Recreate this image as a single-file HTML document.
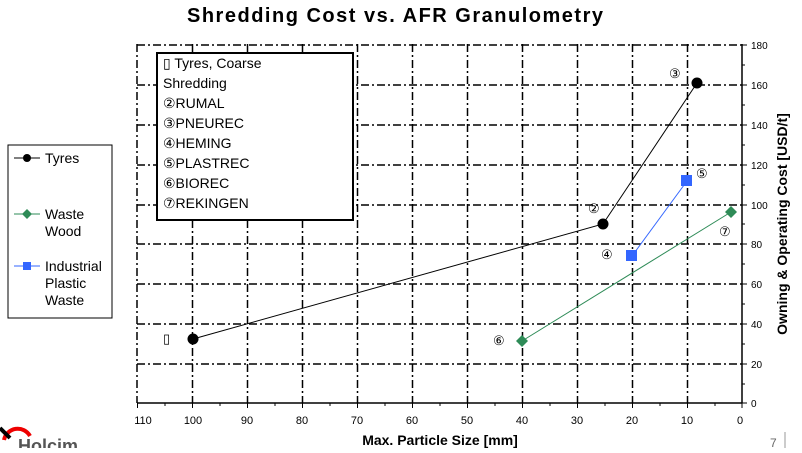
<!DOCTYPE html>
<html><head><meta charset="utf-8"><style>
body{margin:0;background:#fff;width:802px;height:448px;overflow:hidden;font-family:"Liberation Sans",sans-serif}
</style></head><body>
<svg width="802" height="448" xmlns="http://www.w3.org/2000/svg" font-family="Liberation Sans, sans-serif">
<text x="187" y="22" font-size="20" font-weight="bold" textLength="416" lengthAdjust="spacing">Shredding Cost vs. AFR Granulometry</text>
<g stroke="#000" stroke-width="1.5" stroke-dasharray="8,3,2,3" fill="none">
<line x1="192.5" y1="44" x2="192.5" y2="403"/><line x1="247.5" y1="44" x2="247.5" y2="403"/>
<line x1="302.5" y1="44" x2="302.5" y2="403"/><line x1="357.5" y1="44" x2="357.5" y2="403"/>
<line x1="412.5" y1="44" x2="412.5" y2="403"/><line x1="467.5" y1="44" x2="467.5" y2="403"/>
<line x1="522.5" y1="44" x2="522.5" y2="403"/><line x1="577.5" y1="44" x2="577.5" y2="403"/>
<line x1="632.5" y1="44" x2="632.5" y2="403"/><line x1="687.5" y1="44" x2="687.5" y2="403"/>
<line x1="137" y1="85" x2="742" y2="85"/><line x1="137" y1="125" x2="742" y2="125"/>
<line x1="137" y1="165" x2="742" y2="165"/><line x1="137" y1="205" x2="742" y2="205"/>
<line x1="137" y1="244" x2="742" y2="244"/><line x1="137" y1="284" x2="742" y2="284"/>
<line x1="137" y1="324" x2="742" y2="324"/><line x1="137" y1="364" x2="742" y2="364"/>
<line x1="137" y1="45" x2="742" y2="45"/><line x1="137" y1="44" x2="137" y2="403"/>
</g>
<line x1="137" y1="403" x2="742" y2="403" stroke="#000" stroke-width="1.5"/>
<line x1="742" y1="44" x2="742" y2="403" stroke="#000" stroke-width="1.5"/>
<g stroke="#000" stroke-width="1">
<path d="M137.5 403v5M165 403v3M192.5 403v5M220 403v3M247.5 403v5M275 403v3M302.5 403v5M330 403v3M357.5 403v5M385 403v3M412.5 403v5M440 403v3M467.5 403v5M495 403v3M522.5 403v5M550 403v3M577.5 403v5M605 403v3M632.5 403v5M660 403v3M687.5 403v5M715 403v3M742 403v5"/>
<path d="M742 45h5M742 65h3M742 85h5M742 105h3M742 125h5M742 145h3M742 165h5M742 185h3M742 205h5M742 224h3M742 244h5M742 264h3M742 284h5M742 304h3M742 324h5M742 344h3M742 364h5M742 384h3M742 403h5"/>
</g>
<g font-size="11" text-anchor="middle">
<text x="143" y="424">110</text><text x="193" y="424">100</text><text x="247" y="424">90</text><text x="302" y="424">80</text><text x="357" y="424">70</text><text x="412" y="424">60</text><text x="467" y="424">50</text><text x="522" y="424">40</text><text x="577" y="424">30</text><text x="632" y="424">20</text><text x="687" y="424">10</text><text x="740" y="424">0</text>
</g>
<g font-size="10">
<text x="751" y="49">180</text><text x="751" y="89">160</text><text x="751" y="129">140</text><text x="751" y="169">120</text><text x="751" y="209">100</text><text x="751" y="248">80</text><text x="751" y="288">60</text><text x="751" y="328">40</text><text x="751" y="368">20</text><text x="751" y="407">0</text>
</g>
<text x="440" y="445" font-size="14" font-weight="bold" text-anchor="middle">Max. Particle Size [mm]</text>
<text transform="translate(787,224) rotate(-90)" font-size="14" font-weight="bold" text-anchor="middle">Owning &amp; Operating Cost [USD/t]</text>
<rect x="157" y="53" width="196" height="167" fill="#fff" stroke="#000" stroke-width="2"/>
<g font-size="14">
<text x="163" y="68">▯ Tyres, Coarse</text><text x="163" y="88">Shredding</text>
<text x="163" y="108">②RUMAL</text><text x="163" y="128">③PNEUREC</text><text x="163" y="148">④HEMING</text>
<text x="163" y="168">⑤PLASTREC</text><text x="163" y="188">⑥BIOREC</text><text x="163" y="208">⑦REKINGEN</text>
</g>
<polyline points="193,339 603,224 697,83" fill="none" stroke="#000" stroke-width="1"/>
<polyline points="632,256 687,181" fill="none" stroke="#3366ff" stroke-width="1"/>
<polyline points="522,341 731,212" fill="none" stroke="#2e8b57" stroke-width="1"/>
<circle cx="193" cy="339" r="5.5" fill="#000"/><circle cx="603" cy="224" r="5.5" fill="#000"/><circle cx="697" cy="83" r="5.5" fill="#000"/>
<rect x="626" y="250" width="11" height="11" fill="#3366ff"/><rect x="681" y="175" width="11" height="11" fill="#3366ff"/>
<path d="M522 335l6 6-6 6-6-6z" fill="#2e8b57"/><path d="M731 206l6 6-6 6-6-6z" fill="#2e8b57"/>
<g font-size="13">
<text x="163" y="343">▯</text><text x="493" y="345">⑥</text><text x="588" y="213">②</text><text x="669" y="78">③</text>
<text x="601" y="259">④</text><text x="696" y="178">⑤</text><text x="719" y="236">⑦</text>
</g>
<rect x="8" y="145" width="104" height="173" fill="#fff" stroke="#000" stroke-width="1"/>
<g font-size="14">
<line x1="14" y1="158" x2="40" y2="158" stroke="#000"/><circle cx="27" cy="158" r="4"/>
<text x="45" y="163">Tyres</text>
<line x1="14" y1="214" x2="40" y2="214" stroke="#2e8b57"/><path d="M27 209l5 5-5 5-5-5z" fill="#2e8b57"/>
<text x="45" y="219">Waste</text><text x="45" y="236">Wood</text>
<line x1="14" y1="266" x2="40" y2="266" stroke="#3366ff"/><rect x="23" y="262" width="8" height="8" fill="#3366ff"/>
<text x="45" y="271">Industrial</text><text x="45" y="288">Plastic</text><text x="45" y="305">Waste</text>
</g>
<path d="M4 440a14 14 0 0 1 26 -4" fill="none" stroke="#e00" stroke-width="4"/>
<path d="M0 428l10 10" stroke="#000" stroke-width="4"/>
<text x="18" y="452" font-size="18" font-weight="bold" fill="#555">Holcim</text>
<text x="770" y="447" font-size="12" fill="#666">7</text>
<line x1="785" y1="432" x2="785" y2="448" stroke="#999"/>
</svg>
</body></html>
